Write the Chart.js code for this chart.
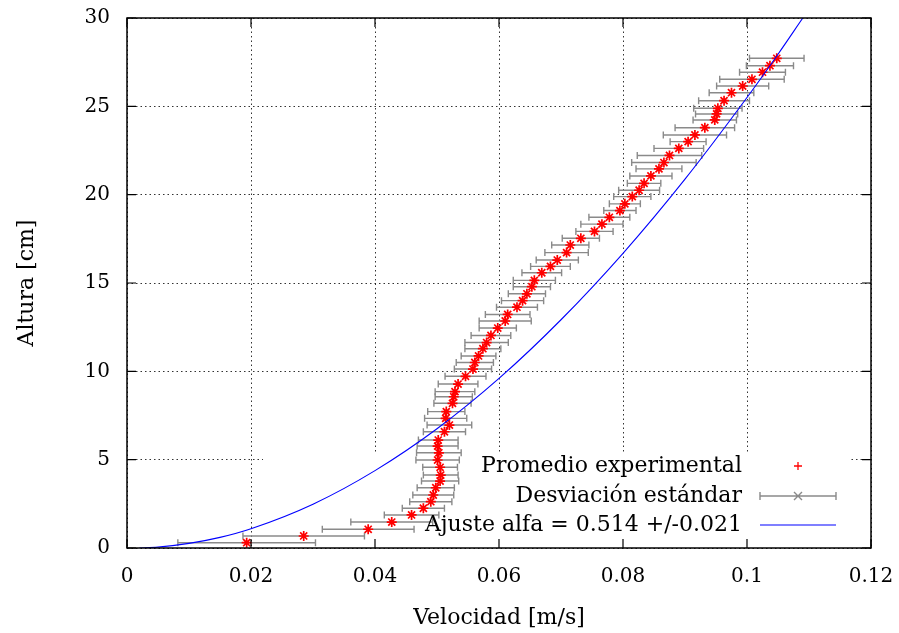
<!DOCTYPE html>
<html>
<head>
<meta charset="utf-8">
<script src="https://cdn.jsdelivr.net/npm/chart.js@4.4.1/dist/chart.umd.min.js"></script>
<style>
  html, body { margin: 0; padding: 0; background: #fff; }
</style>
</head>
<body>
<canvas id="myChart" width="899" height="633"></canvas>
<script>
const ctx = document.getElementById('myChart');

// puntos medidos (velocidad media, altura) y su desviacion
const velocidad = [
  0.0193, 0.0285, 0.0389, 0.0427, 0.0459, 0.0478, 0.0490, 0.0494, 0.0498, 0.0505,
  0.0506, 0.0505, 0.0501, 0.0503, 0.0501, 0.0502, 0.0512, 0.0520, 0.0514, 0.0515,
  0.0525, 0.0527, 0.0529, 0.0534, 0.0546, 0.0558, 0.0561, 0.0567, 0.0574, 0.0580,
  0.0587, 0.0598, 0.0610, 0.0614, 0.0629, 0.0638, 0.0645, 0.0653, 0.0657, 0.0669,
  0.0683, 0.0694, 0.0709, 0.0715, 0.0732, 0.0754, 0.0766, 0.0778, 0.0795, 0.0803,
  0.0815, 0.0826, 0.0834, 0.0845, 0.0858, 0.0866, 0.0875, 0.0890, 0.0905, 0.0916,
  0.0932, 0.0948, 0.0951, 0.0953, 0.0963, 0.0975, 0.0993, 0.1008, 0.1025, 0.1037,
  0.1048
];
const altura = [
  0.30, 0.68, 1.06, 1.47, 1.87, 2.25, 2.62, 3.00, 3.41, 3.79,
  4.13, 4.57, 4.98, 5.39, 5.77, 6.11, 6.58, 6.96, 7.34, 7.72,
  8.19, 8.56, 8.85, 9.28, 9.72, 10.13, 10.50, 10.87, 11.28, 11.63,
  12.03, 12.45, 12.85, 13.22, 13.63, 14.00, 14.39, 14.79, 15.15, 15.58,
  15.94, 16.30, 16.72, 17.15, 17.53, 17.92, 18.33, 18.72, 19.10, 19.48,
  19.89, 20.25, 20.64, 21.06, 21.46, 21.82, 22.22, 22.62, 23.00, 23.38,
  23.79, 24.23, 24.57, 24.89, 25.32, 25.77, 26.15, 26.53, 26.93, 27.30,
  27.72
];
const desviacion = [
  0.0111, 0.0098, 0.0074, 0.0066, 0.0044, 0.0034, 0.0034, 0.0033, 0.0030, 0.0030,
  0.0028, 0.0028, 0.0035, 0.0036, 0.0033, 0.0032, 0.0034, 0.0036, 0.0034, 0.0030,
  0.0030, 0.0030, 0.0032, 0.0032, 0.0033, 0.0030, 0.0030, 0.0028, 0.0029, 0.0035,
  0.0032, 0.0030, 0.0042, 0.0036, 0.0033, 0.0034, 0.0030, 0.0030, 0.0034, 0.0032,
  0.0032, 0.0034, 0.0035, 0.0030, 0.0030, 0.0030, 0.0034, 0.0033, 0.0026, 0.0025,
  0.0030, 0.0033, 0.0027, 0.0034, 0.0037, 0.0052, 0.0052, 0.0040, 0.0029, 0.0051,
  0.0048, 0.0035, 0.0034, 0.0039, 0.0041, 0.0036, 0.0042, 0.0052, 0.0037, 0.0038,
  0.0044
];

// curva de ajuste
const ajusteVel = [0.002, 0.005, 0.010, 0.015, 0.020, 0.030, 0.040, 0.050, 0.060, 0.070, 0.080, 0.090, 0.100, 0.105, 0.109];
const ajusteAlt = [0, 0.05, 0.26, 0.60, 1.09, 2.48, 4.38, 6.75, 9.60, 12.92, 16.68, 20.88, 25.5, 27.95, 30];

const xTicks = [0, 0.02, 0.04, 0.06, 0.08, 0.1, 0.12];
const yTicks = [0, 5, 10, 15, 20, 25, 30];

const etiquetas = ['Promedio experimental', 'Desviación estándar', 'Ajuste alfa = 0.514 +/-0.021'];

const FUENTE = "'DejaVu Serif', serif";
const gris = '#8a8a8a';


//---------------------------
// fondo blanco de la leyenda (key opaca) + barras de error
const barrasPlugin = {
  id: 'barras',
  beforeDatasetsDraw(chart) {
    const c = chart.ctx, a = chart.chartArea;
    const xs = chart.scales.x, ys = chart.scales.y;
    c.save();
    c.fillStyle = '#fff';
    c.fillRect(a.left + 136, a.bottom - 95, a.right - 20 - (a.left + 136), 95);

    c.strokeStyle = gris;
    c.lineWidth = 1.4;
    for (let i = 0; i < velocidad.length; i++) {
      const y = ys.getPixelForValue(altura[i]);
      const x1 = xs.getPixelForValue(velocidad[i] - desviacion[i]);
      const x2 = xs.getPixelForValue(velocidad[i] + desviacion[i]);
      c.beginPath();
      c.moveTo(x1, y); c.lineTo(x2, y);
      c.moveTo(x1, y - 3.5); c.lineTo(x1, y + 3.5);
      c.moveTo(x2, y - 3.5); c.lineTo(x2, y + 3.5);
      c.stroke();
    }
    c.restore();
  }
};

// marco, ticks hacia adentro y leyenda
const marcoPlugin = {
  id: 'marco',
  afterDraw(chart) {
    const c = chart.ctx, a = chart.chartArea;
    const xs = chart.scales.x, ys = chart.scales.y;
    c.save();
    c.strokeStyle = '#000';
    c.lineWidth = 1.5;
    c.strokeRect(a.left, a.top, a.right - a.left, a.bottom - a.top);

    c.lineWidth = 1.2;
    c.beginPath();
    xTicks.forEach(v => {
      const x = xs.getPixelForValue(v);
      c.moveTo(x, a.bottom); c.lineTo(x, a.bottom - 9);
      c.moveTo(x, a.top); c.lineTo(x, a.top + 9);
    });
    yTicks.forEach(v => {
      const y = ys.getPixelForValue(v);
      c.moveTo(a.left, y); c.lineTo(a.left + 9, y);
      c.moveTo(a.right, y); c.lineTo(a.right - 9, y);
    });
    c.stroke();

    // leyenda
    const tx = a.right - 129, s1 = a.right - 111, s2 = a.right - 35, sm = (s1 + s2) / 2;
    const filas = [a.bottom - 82, a.bottom - 52, a.bottom - 23];
    c.font = '22px ' + FUENTE;
    c.fillStyle = '#000';
    c.textAlign = 'right';
    c.textBaseline = 'middle';
    etiquetas.forEach((t, i) => c.fillText(t, tx, filas[i]));

    // + rojo
    c.strokeStyle = '#ff0000';
    c.lineWidth = 1.3;
    c.beginPath();
    c.moveTo(sm - 4, filas[0]); c.lineTo(sm + 4, filas[0]);
    c.moveTo(sm, filas[0] - 4); c.lineTo(sm, filas[0] + 4);
    c.stroke();

    // barra de error con x
    c.strokeStyle = gris;
    c.lineWidth = 1.4;
    c.beginPath();
    c.moveTo(s1, filas[1]); c.lineTo(s2, filas[1]);
    c.moveTo(s1, filas[1] - 4); c.lineTo(s1, filas[1] + 4);
    c.moveTo(s2, filas[1] - 4); c.lineTo(s2, filas[1] + 4);
    c.moveTo(sm - 4, filas[1] - 4); c.lineTo(sm + 4, filas[1] + 4);
    c.moveTo(sm - 4, filas[1] + 4); c.lineTo(sm + 4, filas[1] - 4);
    c.stroke();

    // linea azul
    c.strokeStyle = '#0000ff';
    c.lineWidth = 1.2;
    c.beginPath();
    c.moveTo(s1, filas[2]); c.lineTo(s2, filas[2]);
    c.stroke();
    c.restore();
  }
};


const puntos = velocidad.map((v, i) => ({ x: v, y: altura[i] }));
const ajuste = ajusteVel.map((v, i) => ({ x: v, y: ajusteAlt[i] }));

const grilla = {
  color: 'rgba(0,0,0,0.8)',
  lineWidth: 1,
  drawTicks: false,
  tickLength: 0
};
const borde = { display: false, dash: [1.5, 3] };

let t = {
  type: 'scatter',
  data: {
    datasets: [
      {
        label: 'Ajuste',
        type: 'line',
        data: ajuste,
        borderColor: '#0000ff',
        borderWidth: 1.1,
        pointRadius: 0,
        fill: false,
        cubicInterpolationMode: 'monotone',
        order: 0
      },
      {
        label: 'Promedio experimental',
        data: puntos,
        pointStyle: 'star',
        pointRadius: 5,
        borderColor: '#ff0000',
        backgroundColor: '#ff0000',
        borderWidth: 1.7,
        order: 1
      }
    ]
  },
  options: {
    responsive: false,
    animation: false,
    devicePixelRatio: 1,
    layout: { padding: { top: 18, right: 28, left: 0, bottom: 0 } },
    plugins: {
      legend: { display: false },
      tooltip: { enabled: false }
    },
    scales: {
      x: {
        type: 'linear',
        min: 0,
        max: 0.12,
        afterBuildTicks: s => { s.ticks = xTicks.map(v => ({ value: v })); },
        afterFit: s => { s.height = 85; s.paddingLeft = 0; s.paddingRight = 0; },
        grid: grilla,
        border: borde,
        ticks: {
          color: '#000',
          padding: 17,
          maxRotation: 0,
          font: { family: FUENTE, size: 20 },
          callback: v => String(+v.toFixed(2))
        },
        title: {
          display: true,
          text: 'Velocidad [m/s]',
          color: '#000',
          font: { family: FUENTE, size: 22 },
          padding: { top: 0, bottom: 2 }
        }
      },
      y: {
        type: 'linear',
        min: 0,
        max: 30,
        afterBuildTicks: s => { s.ticks = yTicks.map(v => ({ value: v })); },
        afterFit: s => { s.width = 127; s.paddingTop = 0; s.paddingBottom = 0; },
        grid: grilla,
        border: borde,
        ticks: {
          color: '#000',
          padding: 17,
          font: { family: FUENTE, size: 20 }
        },
        title: {
          display: true,
          text: 'Altura [cm]',
          color: '#000',
          font: { family: FUENTE, size: 22 },
          padding: { top: 14, bottom: 0 }
        }
      }
    }
  },
  plugins: [barrasPlugin, marcoPlugin]
};

let cc = new Chart(ctx, t);
</script>
</body>
</html>
